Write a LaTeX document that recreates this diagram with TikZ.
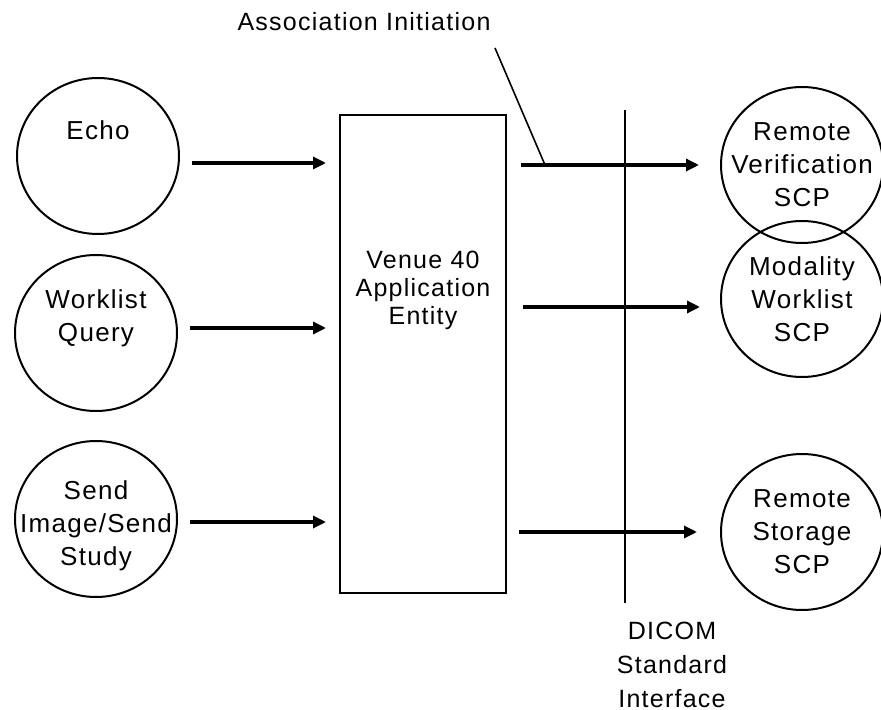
\documentclass[tikz,border=0pt]{standalone}
\usepackage{fontspec}
\setmainfont{Liberation Sans}[LetterSpace=5]
\usetikzlibrary{arrows.meta, positioning, shapes.geometric}

\tikzset{
  proc/.style={draw, ellipse, line width=1pt, minimum width=81pt, minimum height=78pt, inner sep=0pt},
  txt/.style={align=center, font=\fontsize{13}{16.5}\selectfont},
  entity/.style={draw, rectangle, line width=1pt, minimum width=83pt, minimum height=238.5pt},
  flow/.style={-{Triangle[length=6.5pt,width=6pt]}, line width=1.6pt},
}

\begin{document}
\begin{tikzpicture}[x=0.5pt, y=-0.5pt]
  \useasboundingbox (0,0) rectangle (881,710);

  % local services
  \node[proc, label={[txt, yshift=13pt]center:Echo}] (echo) at (98,156) {};
  \node[proc, label={[txt, yshift=7.5pt]center:Worklist\\Query}] (wlq) at (96,333) {};
  \node[proc, label={[txt, yshift=-3.5pt]center:Send\\Image/Send\\Study}] (send) at (96,519) {};

  % application entity
  \node[entity, label={[txt, font=\fontsize{12.5}{14}\selectfont, yshift=32pt]center:Venue 40\\Application\\Entity}] (ae) at (423,354) {};

  % remote peers
  \node[proc, label={[txt]center:Remote\\Verification\\SCP}] (rv) at (802,165) {};
  \node[proc, label={[txt]center:Modality\\Worklist\\SCP}] (mwl) at (802,299) {};
  \node[proc, label={[txt]center:Remote\\Storage\\SCP}] (rs) at (802,532) {};

  % arrows into the AE
  \draw[flow, shorten <=6pt, shorten >=6.5pt] (echo.east |- 0,163) -- (ae.west |- 0,163);
  \draw[flow, shorten <=6pt, shorten >=6.5pt] (wlq.east |- 0,328) -- (ae.west |- 0,328);
  \draw[flow, shorten <=6pt, shorten >=6.5pt] (send.east |- 0,522) -- (ae.west |- 0,522);

  % arrows out of the AE
  \draw[flow, shorten <=7pt, shorten >=10.5pt] (ae.east |- 0,165) -- (rv.west |- 0,165);
  \draw[flow, shorten <=8pt, shorten >=10pt] (ae.east |- 0,307) -- (mwl.west |- 0,307);
  \draw[flow, shorten <=6pt, shorten >=11.5pt] (ae.east |- 0,532) -- (rs.west |- 0,532);

  % DICOM interface
  \coordinate (dtop) at (625,110);
  \coordinate (dbot) at (625,603);
  \draw[line width=1pt] (dtop) -- (dbot);
  \node[txt, font=\fontsize{12.5}{17}\selectfont, anchor=north] (dicom) at (672,615) {DICOM\\Standard\\Interface};

  % association initiation
  \node[txt, font=\fontsize{12.5}{15}\selectfont] (assoc) at (364,22) {Association Initiation};
  \coordinate (aend) at (495,48);
  \coordinate (atip) at (545,165);
  \draw[line width=0.8pt] (aend) -- (atip);
\end{tikzpicture}
\end{document}
